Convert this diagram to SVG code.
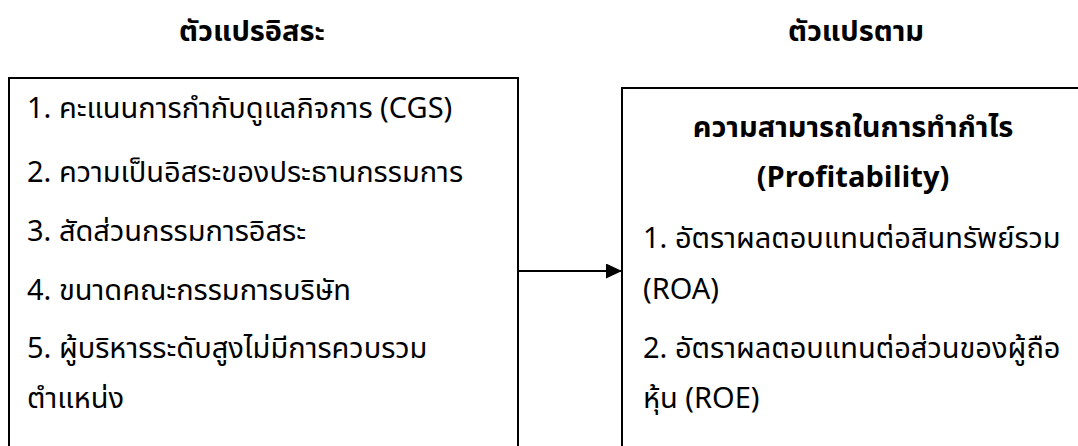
<svg xmlns="http://www.w3.org/2000/svg" width="1078" height="446" viewBox="0 0 1078 446">
<style>
text{font-family:"Noto Sans Thai","Noto Sans","Leelawadee UI",Tahoma,sans-serif;font-size:29px;fill:#000}
.b{font-weight:bold}
.box{fill:#fff;stroke:#000;stroke-width:2}
</style>
<defs>
<marker id="ah" markerWidth="16" markerHeight="15" refX="16" refY="7.5" orient="auto" markerUnits="userSpaceOnUse">
<path d="M0,0 L16,7.5 L0,15 Z" fill="#000"/>
</marker>
</defs>
<rect width="1078" height="446" fill="#fff"/>
<g id="title-independent"><text class="b" x="252" y="41" text-anchor="middle">ตัวแปรอิสระ</text></g>
<g id="title-dependent"><text class="b" x="856" y="41" text-anchor="middle">ตัวแปรตาม</text></g>
<g id="independent">
<rect class="box" x="9" y="78" width="509" height="400"/>
<text x="27" y="118">1. คะแนนการกำกับดูแลกิจการ (CGS)</text>
<text x="27" y="182">2. ความเป็นอิสระของประธานกรรมการ</text>
<text x="27" y="241">3. สัดส่วนกรรมการอิสระ</text>
<text x="27" y="300">4. ขนาดคณะกรรมการบริษัท</text>
<text x="27" y="358">5. ผู้บริหารระดับสูงไม่มีการควบรวม</text>
<text x="27" y="408">ตำแหน่ง</text>
</g>
<g id="dependent">
<rect class="box" x="622" y="88" width="470" height="400"/>
<text class="b" x="853" y="137" text-anchor="middle">ความสามารถในการทำกำไร</text>
<text class="b" x="853" y="187" text-anchor="middle">(Profitability)</text>
<text x="643" y="248">1. อัตราผลตอบแทนต่อสินทรัพย์รวม</text>
<text x="643" y="299">(ROA)</text>
<text x="643" y="358">2. อัตราผลตอบแทนต่อส่วนของผู้ถือ</text>
<text x="643" y="408">หุ้น (ROE)</text>
</g>
<g id="connectors">
<line x1="518" y1="271" x2="622" y2="271" stroke="#000" stroke-width="2" marker-end="url(#ah)"/>
</g>
</svg>
